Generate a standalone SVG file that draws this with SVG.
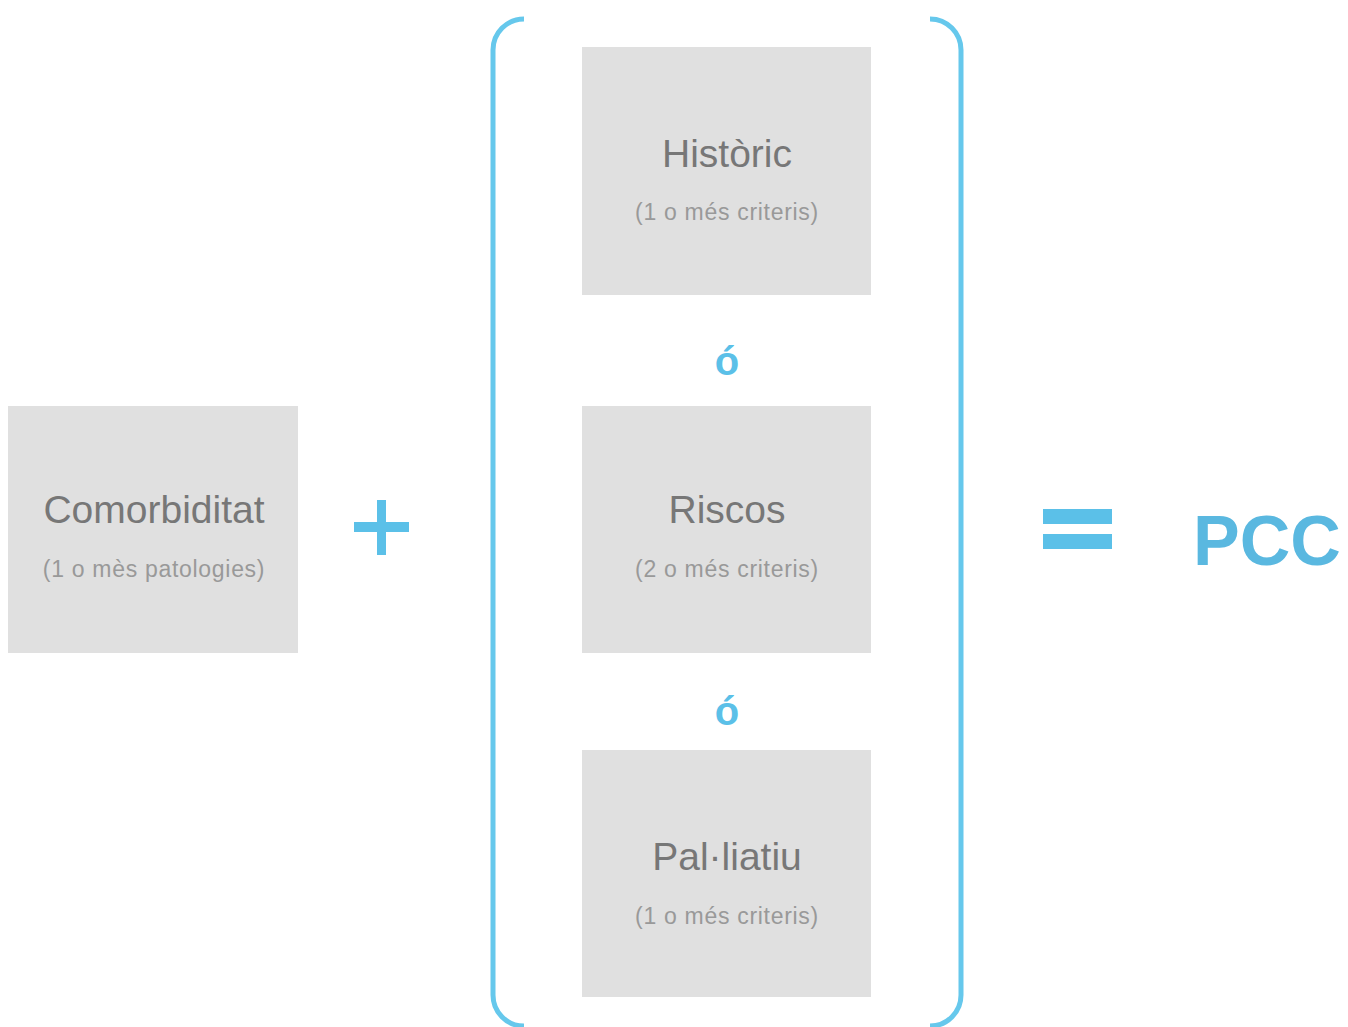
<svg xmlns="http://www.w3.org/2000/svg" width="1348" height="1027" viewBox="0 0 1348 1027">
<style>
.box{fill:#e0e0e0}
.t{font-family:"Liberation Sans",Arial,sans-serif;fill:#777;text-anchor:middle}
.h{font-size:39px}
.s{font-size:23px;letter-spacing:0.7px;fill:#999}
.b{fill:#5bc0e8}
.o{font-family:"Liberation Sans",Arial,sans-serif;font-weight:bold;font-size:40px;fill:#5bc0e8;text-anchor:middle}
.br{fill:none;stroke:#66c8ec;stroke-width:5}
</style>
<rect width="1348" height="1027" fill="#fff"/>
<g id="bracket-left"><path class="br" d="M524,19 A31,31 0 0 0 493,50 L493,995 A31,31 0 0 0 524,1026"/></g>
<g id="bracket-right"><path class="br" d="M930,19 A31,31 0 0 1 961,50 L961,995 A31,31 0 0 1 930,1026"/></g>
<g id="comorbiditat">
<rect class="box" x="8" y="406" width="290" height="247"/>
<text class="t h" x="154" y="523">Comorbiditat</text>
<text class="t s" x="154" y="577">(1 o mès patologies)</text>
</g>
<g id="plus"><rect class="b" x="377" y="500" width="9" height="55"/><rect class="b" x="354" y="522" width="55" height="10"/></g>
<g id="historic">
<rect class="box" x="582" y="47" width="289" height="248"/>
<text class="t h" x="727" y="167">Històric</text>
<text class="t s" x="727" y="220">(1 o més criteris)</text>
</g>
<text class="o" x="727" y="375">ó</text>
<g id="riscos">
<rect class="box" x="582" y="406" width="289" height="247"/>
<text class="t h" x="727" y="523">Riscos</text>
<text class="t s" x="727" y="577">(2 o més criteris)</text>
</g>
<text class="o" x="727" y="725">ó</text>
<g id="palliatiu">
<rect class="box" x="582" y="750" width="289" height="247"/>
<text class="t h" x="727" y="870">Pal·liatiu</text>
<text class="t s" x="727" y="924">(1 o més criteris)</text>
</g>
<g id="equals"><rect class="b" x="1043" y="509" width="69" height="15"/><rect class="b" x="1043" y="534" width="69" height="15"/></g>
<g id="pcc"><text x="1193" y="565" font-family="Liberation Sans,Arial,sans-serif" font-weight="bold" font-size="70" fill="#5ab8e0">PCC</text></g>
</svg>
